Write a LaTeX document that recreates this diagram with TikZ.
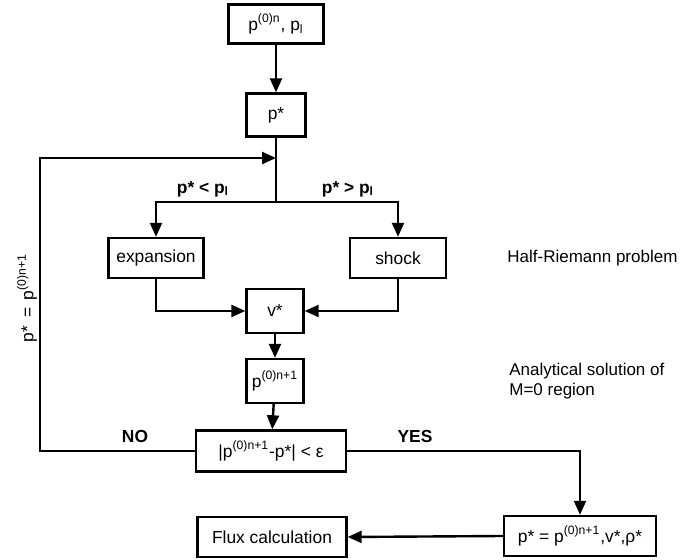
\documentclass[tikz,border=0pt]{standalone}
\usepackage{fontspec}
\setmainfont{Liberation Sans}
\usepackage{tikz}
\usetikzlibrary{
        arrows.meta,
        positioning
    }

\begin{document}
\begin{tikzpicture}
[x=0.5pt, y=-0.5pt,
baseshape/.style={text centered, font=\fontsize{8.7}{10.5}\selectfont, draw=black, line width=1.2pt, inner sep=2pt},
block/.style={baseshape, rectangle, fill=white},
cond/.style={font=\fontsize{8.7}{10.5}\selectfont\bfseries},
note/.style={font=\fontsize{8.5}{10}\selectfont, anchor=west, align=left, inner sep=0pt},
arrow/.style={line width=1.2pt, -{Triangle[length=7pt, width=6pt]}},
line/.style={line width=1.2pt},]
\useasboundingbox (0,0) rectangle (680,560);

\node (init) [block, minimum width=47.5pt, minimum height=19.5pt] at (276,24) {p\textsuperscript{(0)n}, p\textsubscript{l}};
\node (pstar) [block, minimum width=29.5pt, minimum height=21.5pt] at (276,115) {p*};
\coordinate (join) at (276,158);
\coordinate (loop) at (40,158);
\coordinate (branch) at (276,202);

\node (expansion) [block, minimum width=47.5pt, minimum height=20pt] at (156,258) {expansion};
\node (shock) [block, minimum width=48pt, minimum height=20pt] at (398,258) {shock};
\node (vstar) [block, minimum width=28.5pt, minimum height=22pt] at (275,311) {v*};
\node (pnew) [block, minimum width=28.5pt, minimum height=22pt] at (275,381) {p\textsuperscript{(0)n+1}};
\node (check) [block, minimum width=75pt, minimum height=20.5pt] at (271,451) {|p\textsuperscript{(0)n+1}-p*| < ε};
\node (result) [block, minimum width=76pt, minimum height=20pt] at (580,536) {p* = p\textsuperscript{(0)n+1},v*,ρ*};
\node (flux) [block, minimum width=74.5pt, minimum height=20pt] at (272,537) {Flux calculation};

\node (less) [cond] at (203,189) {p* < p\textsubscript{l}};
\node (greater) [cond] at (348,189) {p* > p\textsubscript{l}};
\node (no) [cond] at (135,437) {NO};
\node (yes) [cond] at (415,437) {YES};
\node (update) [baseshape, draw=none, rotate=90] at (27,298) {p* \,=\, p\textsuperscript{(0)n+1}};

\node (riemann) [note] at (507,258) {Half-Riemann problem};
\node (analytic) [note] at (509,381) {Analytical solution of\\M=0 region};

\draw[arrow] (init) -- (pstar);
\draw[line] (pstar) -- (branch);
\draw[arrow] (branch) -| (expansion.north);
\draw[arrow] (branch) -| (shock.north);
\draw[arrow] (expansion.south) |- (vstar.west);
\draw[arrow] (shock.south) |- (vstar.east);
\draw[arrow] (vstar) -- (pnew);
\draw[arrow] (pnew) -- (check);
\draw[arrow] (check.west) -| (loop) -- (join);
\draw[arrow] (check.east) -| (result.north);
\draw[arrow] (result.west) -- (flux.east);













\end{tikzpicture}
\end{document}
